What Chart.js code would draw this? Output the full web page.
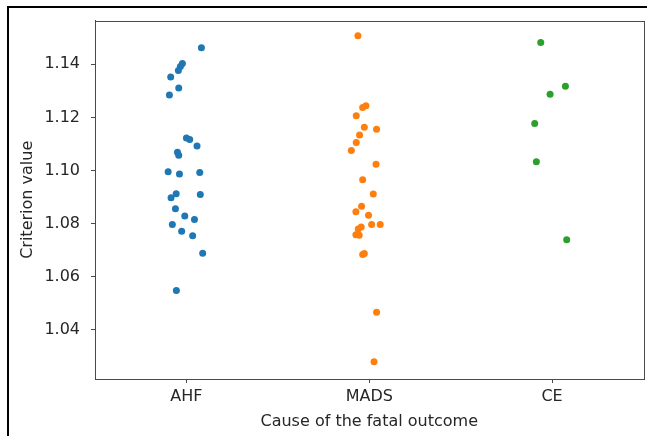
<!DOCTYPE html>
<html>
<head>
<meta charset="utf-8">
<script src="https://cdn.jsdelivr.net/npm/chart.js@4/dist/chart.umd.min.js"></script>
<style>
  html, body { margin: 0; padding: 0; background: #fff; }
  #wrap { position: relative; width: 647px; height: 436px; overflow: hidden; }
  #frameTop { position: absolute; left: 7px; top: 6px; width: 640px; height: 2px; background: #000; }
  #frameLeft { position: absolute; left: 7px; top: 6px; width: 2px; height: 430px; background: #000; }
</style>
</head>
<body>
<div id="wrap">
  <canvas id="c" width="647" height="436"></canvas>
  <div id="frameTop"></div>
  <div id="frameLeft"></div>
</div>
<script>
const categories = ["AHF", "MADS", "CE"];
const yTicks = [1.04, 1.06, 1.08, 1.10, 1.12, 1.14];

const ahfValues = [1.1463, 1.1403, 1.1392, 1.1377, 1.1352, 1.1311, 1.1284, 1.1122, 1.1116, 1.1092,
  1.1068, 1.1057, 1.0995, 1.0986, 1.0992, 1.0912, 1.0897, 1.0909, 1.0855, 1.0828,
  1.0815, 1.0796, 1.0770, 1.0753, 1.0687, 1.0547];
const ahfJitter = [0.082, -0.022, -0.033, -0.044, -0.086, -0.042, -0.093, 0.0, 0.018, 0.058,
  -0.049, -0.042, -0.100, -0.038, 0.073, -0.056, -0.084, 0.076, -0.060, -0.009,
  0.044, -0.077, -0.026, 0.034, 0.089, -0.055];

const madsValues = [1.1508, 1.1244, 1.1237, 1.1206, 1.1163, 1.1155, 1.1133, 1.1105, 1.1075, 1.1023,
  1.0965, 1.0911, 1.0865, 1.0844, 1.0831, 1.0796, 1.0796, 1.0786, 1.0779, 1.0757,
  1.0755, 1.0683, 1.0686, 1.0465, 1.0278];
const madsJitter = [-0.062, -0.018, -0.036, -0.071, -0.027, 0.040, -0.053, -0.071, -0.098, 0.037,
  -0.036, 0.022, -0.042, -0.073, -0.004, 0.013, 0.060, -0.044, -0.060, -0.073,
  -0.055, -0.036, -0.027, 0.040, 0.026];

const ceValues = [1.1482, 1.1317, 1.1287, 1.1177, 1.1033, 1.0738];
const ceJitter = [-0.062, 0.073, -0.011, -0.095, -0.086, 0.080];

const colors = ["#1f77b4", "#ff7f0e", "#2ca02c"];
const seriesValues = [ahfValues, madsValues, ceValues];
const seriesJitter = [ahfJitter, madsJitter, ceJitter];

const FONT = "'DejaVu Sans', sans-serif";
const FSIZE = 16;
const TEXT = "#262626";
const AXIS = "#4a4a4a";

const datasets = categories.map((cat, i) => ({
  label: cat,
  data: seriesValues[i].map((v, k) => ({ x: i + seriesJitter[i][k], y: v })),
  backgroundColor: colors[i],
  borderWidth: 0,
  pointRadius: 3.5,
  pointHoverRadius: 3.5
}));

const framePlugin = {
  id: 'frame',
  afterDraw(chart) {
    const { ctx, chartArea: a } = chart;
    ctx.save();
    ctx.strokeStyle = AXIS;
    ctx.lineWidth = 1;
    ctx.strokeRect(Math.round(a.left) + 0.5, Math.round(a.top) + 0.5,
      Math.round(a.right - a.left), Math.round(a.bottom - a.top));
    ctx.restore();
  }
};

new Chart(document.getElementById('c'), {
  type: 'scatter',
  data: { datasets },
  options: {
    responsive: false,
    animation: false,
    devicePixelRatio: 1,
    layout: { padding: { top: 20, right: 3, left: 0, bottom: 0 } },
    plugins: { legend: { display: false }, tooltip: { enabled: false } },
    scales: {
      x: {
        type: 'linear',
        min: -0.5,
        max: 2.5,
        afterBuildTicks: (s) => { s.ticks = categories.map((c, i) => ({ value: i })); },
        afterFit: (s) => { s.height = 57; },
        ticks: {
          callback: (v) => categories[Math.round(v)],
          font: { family: FONT, size: FSIZE },
          color: TEXT,
          padding: 4,
          maxRotation: 0
        },
        grid: { display: true, drawOnChartArea: false, drawTicks: true, tickLength: 4, color: AXIS },
        border: { display: true, color: AXIS },
        title: {
          display: true,
          text: 'Cause of the fatal outcome',
          font: { family: FONT, size: FSIZE },
          color: TEXT,
          padding: { top: 0, bottom: 5 }
        }
      },
      y: {
        min: 1.0213,
        max: 1.1565,
        afterBuildTicks: (s) => { s.ticks = yTicks.map(v => ({ value: v })); },
        afterFit: (s) => { s.width = 95; },
        ticks: {
          callback: (v) => v.toFixed(2),
          font: { family: FONT, size: FSIZE },
          color: TEXT,
          padding: 11
        },
        grid: { display: true, drawOnChartArea: false, drawTicks: true, tickLength: 4, color: AXIS },
        border: { display: true, color: AXIS },
        title: {
          display: true,
          text: 'Criterion value',
          font: { family: FONT, size: FSIZE },
          color: TEXT,
          padding: { top: 18, bottom: 0 }
        }
      }
    }
  },
  plugins: [framePlugin]
});
</script>
</body>
</html>
